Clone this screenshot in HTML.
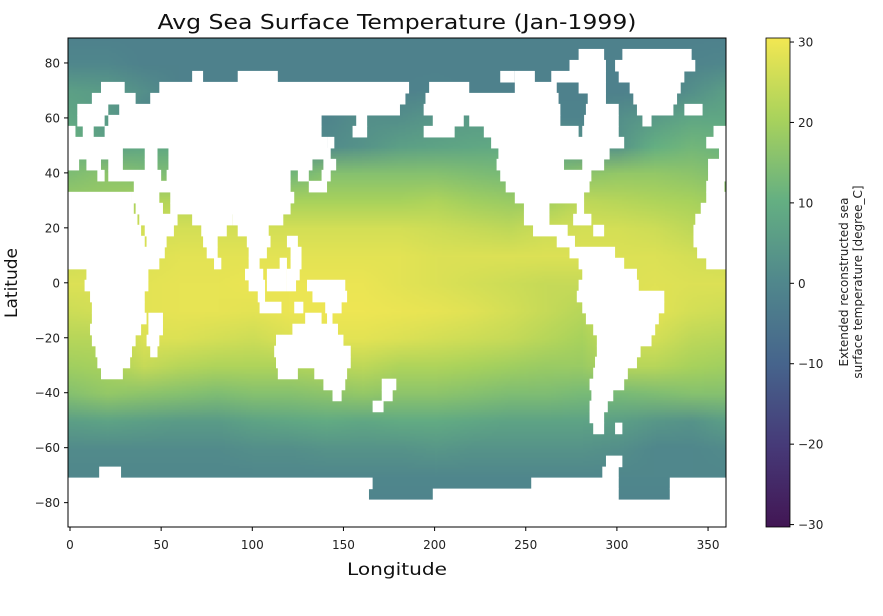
<!DOCTYPE html>
<html><head><meta charset="utf-8"><style>
body{margin:0;background:#fff;width:883px;height:616px;overflow:hidden;font-family:"DejaVu Sans","Liberation Sans",sans-serif}
#wrap{position:absolute;left:0;top:0;width:883px;height:616px}
#clip{position:absolute;left:68px;top:38px;width:658px;height:489px;overflow:hidden;background:#fff}
#heat{position:absolute;image-rendering:auto}
svg{position:absolute;left:0;top:0}
</style></head><body>
<div id="wrap">
<div id="clip"><canvas id="heat" width="19" height="19"></canvas></div>
<svg id="svg" width="883" height="616">
<defs><linearGradient id="vir" x1="0" y1="1" x2="0" y2="0">
<stop offset="0" stop-color="rgb(66,22,84)"/><stop offset="0.1667" stop-color="rgb(70,58,120)"/><stop offset="0.3333" stop-color="rgb(70,100,140)"/><stop offset="0.5" stop-color="rgb(80,135,140)"/><stop offset="0.6667" stop-color="rgb(100,175,130)"/><stop offset="0.8333" stop-color="rgb(168,210,92)"/><stop offset="1" stop-color="rgb(242,231,82)"/>
</linearGradient>
<clipPath id="pc"><rect x="68" y="38" width="658" height="489"/></clipPath></defs>
<g id="land" clip-path="url(#pc)"></g>
<rect x="68" y="38" width="658" height="489" fill="none" stroke="#000" stroke-width="1"/>
<g id="axes" font-size="12" fill="#222"></g>
<text x="397" y="29" text-anchor="middle" font-size="20" fill="#111" textLength="479" lengthAdjust="spacingAndGlyphs">Avg Sea Surface Temperature (Jan-1999)</text>
<text x="397" y="575" text-anchor="middle" font-size="17" fill="#111" textLength="100" lengthAdjust="spacingAndGlyphs">Longitude</text>
<text x="17" y="283" text-anchor="middle" font-size="17" fill="#111" transform="rotate(-90 17 283)">Latitude</text>
<rect x="766" y="38" width="24" height="489" fill="url(#vir)" stroke="#000" stroke-width="0.8"/>
<g id="cbax" font-size="12" fill="#222"></g>
<text font-size="12" fill="#222" transform="translate(848 282) rotate(-90)" text-anchor="middle"><tspan x="0" y="0">Extended reconstructed sea</tspan><tspan x="0" y="14">surface temperature [degree_C]</tspan></text>
</svg>
</div>
<script>
// temperature grid: rows lat 90..-90 step 10, cols lon 0..360 step 20
const gridLats=[90,80,70,60,50,40,30,20,10,0,-10,-20,-30,-40,-50,-60,-70,-80,-90];
const gridLons=[0,20,40,60,80,100,120,140,160,180,200,220,240,260,280,300,320,340,360];
const sstRows=[
[-1.8,-1.8,-1.8,-1.8,-1.8,-1.8,-1.8,-1.8,-1.8,-1.8,-1.8,-1.8,-1.8,-1.8,-1.8,-1.8,-1.8,-1.8,-1.8],
[0,0,-1.8,-1.8,-1.8,-1.8,-1.8,-1.8,-1.8,-1.8,-1.8,-1.8,-1.8,-1.8,-1.8,-1.8,-1.8,-1,0],
[6,5,2,-1.8,-1.8,-1.8,-1.8,-1.8,-1.8,-1.5,-1,-1.8,-1.8,-1.8,-1.8,-1.8,-1.8,2,6],
[8,5,-1,-1,-1,-1,-1,-1,2,2,4,5,5,-1,-1,2,5,8,8],
[11,6,8,8,8,8,2,1,3,6,7,8,9,8,3,3,10,12,11],
[14,16,14,14,15,15,12,15,15,15,15,14,13,13,16,17,17,16,14],
[18,18,21,22,22,21,20,20,20,20,21,19,18,19,23,22,21,20,18],
[22,23,26,26,26,26,26,26,26,26,25,24,23,25,26,26,25,23,22],
[25,27,27,28,28,28,28,28,28,28,27,27,27,27,27,27,27,26,25],
[27,27,28,28.5,28.5,29,29,29,29,28,27,26,25,24,24,27,27.5,27,27],
[25,26,28,28.5,28.5,28,29,29.5,29.5,29,28.5,27.5,26,24,22,27,28,26,25],
[22,22,27,27,26,25,27,28,28,27,26,25,24,22,20,25,26,23,22],
[19,20,24,22,21,21,21,22,23,21,21,20,19,18,18,22,22,20,19],
[15,17,16,15,14,15,15,16,17,16,16,15,14,14,13,13,14,15,15],
[6,7,6,5,5,7,8,9,8,9,9,8,7,7,7,6,4,3,6],
[1,1,1,1,1,2,2,3,3,3,4,3,3,3,3,2,0,0,1],
[0,0,0,0,0,0,0,0,0,0,0,0,0,0,0,0,0,0,0],
[-1,-1,-1,-1,-1,-1,-1,-1,-1,-1,-1,-1,-1,-1,-1,-1,-1,-1,-1],
[-1,-1,-1,-1,-1,-1,-1,-1,-1,-1,-1,-1,-1,-1,-1,-1,-1,-1,-1]];
// land mask: 4-degree latitude bands (centre), land longitude intervals
const landLats=[87,83,79,75,71,67,63,59,55,51,47,43,39,35,31,27,23,19,15,11,7,3,-1,-5,-9,-13,-17,-21,-25,-29,-33,-37,-41,-45,-49,-53,-57,-61,-65,-69,-73,-77,-81,-85,-89];
const landRanges=[
[],[[280,292],[304,340]],[[275,293],[300,342]],
[[68,72],[93,113],[237,243],[245,254],[265,293],[302,336]],
[[18,29],[50,185],[198,218],[245,266],[280,293],[308,334]],
[[13,35],[45,183],[196,267],[285,293],[310,332]],
[[5,20],[28,180],[195,268],[284,300],[312,330],[338,346]],
[[5,18],[22,137],[158,162],[200,215],[220,268],[283,300],[315,318]],
[[354,360],[0,2],[8,12],[20,137],[156,162],[195,210],[228,278],[282,300]],
[[350,360],[0,140],[142,144],[232,303]],
[[357,360],[0,28],[42,47],[55,142],[236,295]],
[[351,360],[0,4],[10,16],[22,28],[42,47],[55,132],[140,145],[235,270],[282,292]],
[[351,360],[16,18],[22,49],[54,120],[126,130],[139,142],[237,285]],
[[350,358],[36,120],[132,140],[240,284]],
[[350,360],[0,33],[35,48],[56,122],[245,278],[279,281]],
[[347,360],[0,34],[37,50],[56,120],[250,262],[279,281]],
[[344,360],[0,36],[39,58],[68,88],[90,116],[250,262],[277,285]],
[[343,360],[0,38],[42,56],[73,85],[93,108],[255,272],[288,292]],
[[343,360],[0,40],[43,52],[74,80],[98,109],[120,124],[268,276]],
[[345,360],[0,51],[76,80],[99,107],[122,126],[275,298]],
[[350,360],[0,48],[80,82],[99,103],[116,118],[122,126],[280,303]],
[[10,42],[97,105],[109,118],[120,125],[282,310]],
[[9,42],[99,106],[109,118],[120,123],[131,150],[280,311]],
[[12,40],[104,106],[134,151],[279,325]],
[[13,40],[105,115],[124,127],[141,148],[282,325]],
[[13,41],[44,50],[130,137],[142,143],[284,322]],
[[12,38],[44,50],[123,146],[288,320]],
[[13,35],[43,48],[114,149],[290,318]],
[[15,33],[45,47],[113,153],[290,312]],
[[16,32],[114,153],[289,310]],
[[18,28],[115,124],[135,151],[288,305]],
[[140,150],[172,178],[286,303]],
[[145,148],[172,176],[287,297]],
[[167,171],[286,294]],
[[286,292]],
[[288,292],[300,302]],
[],[],
[[295,302]],
[[17,27],[293,300]],
[[0,165],[254,300],[330,360]],
[[0,163],[200,300],[330,360]],
[[0,360]],[[0,360]],[[0,360]]];
const xTicks=[0,50,100,150,200,250,300,350];
const yTicks=[80,60,40,20,0,-20,-40,-60,-80];
const cbTicks=[30,20,10,0,-10,-20,-30];
const vmin=-30.3, vmax=30.5;

const X=lon=>70+lon*1.823;
const Y=lat=>282.8-lat*2.748;
const CB=v=>527-(v-vmin)/(vmax-vmin)*489;
const NS="http://www.w3.org/2000/svg";
// colour stops at -30,-20,...,30 (matched to reference colorbar)
const cmap=[[66,22,84],[70,58,120],[70,100,140],[80,135,140],[100,175,130],[168,210,92],[242,231,82]];
function color(v){let t=(v+30)/60;t=Math.max(0,Math.min(1,t))*6;const i=Math.min(5,Math.floor(t)),f=t-i;
 return cmap[i].map((c,k)=>c+(cmap[i+1][k]-c)*f);}
// heatmap
const cv=document.getElementById('heat');
const ctx=cv.getContext('2d');const img=ctx.createImageData(gridLons.length,gridLats.length);
sstRows.forEach((row,r)=>row.forEach((v,c)=>{const col=color(v);const p=(r*gridLons.length+c)*4;
 for(let k=0;k<3;k++)img.data[p+k]=Math.round(col[k]);img.data[p+3]=255;}));
ctx.putImageData(img,0,0);
const dLon=gridLons[1]-gridLons[0],dLat=gridLats[0]-gridLats[1];
cv.style.left=(X(gridLons[0]-dLon/2)-68)+'px';
cv.style.width=(X(gridLons[gridLons.length-1]+dLon/2)-X(gridLons[0]-dLon/2))+'px';
cv.style.top=(Y(gridLats[0]+dLat/2)-38)+'px';
cv.style.height=(Y(gridLats[gridLats.length-1]-dLat/2)-Y(gridLats[0]+dLat/2))+'px';
// land
const land=document.getElementById('land');
landLats.forEach((lat,i)=>landRanges[i].forEach(r=>{const e=document.createElementNS(NS,'rect');
 e.setAttribute('x',X(r[0]-1));e.setAttribute('width',X(r[1]+1)-X(r[0]-1));
 e.setAttribute('y',Y(lat+2)-0.3);e.setAttribute('height',Y(lat-2)-Y(lat+2)+0.6);e.setAttribute('fill','#fff');
 
 
 land.appendChild(e);}));
const ax=document.getElementById('axes');
function add(g,tag,attrs,txt){const e=document.createElementNS(NS,tag);for(const k in attrs)e.setAttribute(k,attrs[k]);if(txt!==undefined)e.textContent=txt;g.appendChild(e);return e;}
xTicks.forEach(v=>{const x=X(v);
 const l=add(ax,'line',{x1:x,x2:x,y1:527,y2:531,stroke:'#000'});
 
 
 const t=add(ax,'text',{x:x,y:549,'text-anchor':'middle'},String(v));
 
 });
yTicks.forEach(v=>{const y=Y(v);
 const l=add(ax,'line',{x1:64,x2:68,y1:y,y2:y,stroke:'#000'});
 
 
 const t=add(ax,'text',{x:60,y:y+4.5,'text-anchor':'end'},String(v).replace('-','\u2212'));
 
 });
const cb=document.getElementById('cbax');
cbTicks.forEach(v=>{const y=CB(v);
 const l=add(cb,'line',{x1:790,x2:794,y1:y,y2:y,stroke:'#000'});
 
 
 const t=add(cb,'text',{x:798,y:y+4.5},String(v).replace('-','\u2212'));
 
 });
</script>
</body></html>
